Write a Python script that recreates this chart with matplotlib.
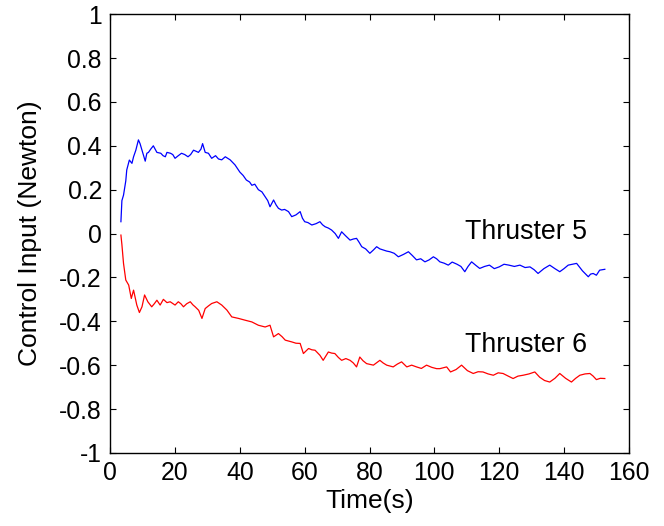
import numpy as np
import matplotlib
matplotlib.use("Agg")
import matplotlib.pyplot as plt
from matplotlib.ticker import FuncFormatter

plt.rcParams['font.family'] = ['Liberation Sans', 'DejaVu Sans']
plt.rcParams['axes.unicode_minus'] = False

# Thruster 5 (blue)
t5 = [3.3, 3.6, 4.1, 4.8, 5.1, 5.9, 6.7, 7.2, 7.9, 8.7,
      9.2, 10.0, 10.8, 11.3, 11.8, 12.5, 13.3, 14.4, 15.6, 16.3,
      17.0, 17.5, 18.6, 19.3, 20.0, 21.0, 22.0, 23.0, 24.0, 24.8,
      25.7, 26.5, 27.2, 28.0, 28.5, 29.3, 30.3, 31.3, 32.5, 33.4,
      34.4, 35.5, 37.0, 38.5, 40.0, 41.0, 42.0, 43.0, 43.7, 44.6,
      45.7, 46.8, 47.8, 48.6, 49.3, 50.4, 51.2, 51.9, 52.9, 53.8,
      55.0, 56.0, 57.3, 58.6, 59.3, 60.0, 61.0, 62.2, 63.5, 64.7,
      65.5, 66.3, 67.3, 68.3, 69.4, 70.4, 71.4, 72.6, 74.0, 75.0,
      76.0, 76.8, 77.6, 78.8, 80.1, 81.2, 82.2, 83.2, 84.2, 85.3,
      86.3, 87.6, 88.9, 90.5, 92.0, 93.2, 94.5, 95.8, 97.1, 98.4,
      99.7, 100.7, 101.7, 103.0, 104.3, 105.5, 107.0, 108.2, 109.4, 110.4,
      111.5, 112.8, 114.0, 115.5, 117.0, 118.5, 120.0, 121.5, 123.0, 124.7,
      126.4, 128.0, 129.5, 130.8, 132.0, 133.8, 135.6, 137.2, 138.7, 140.0,
      141.3, 142.6, 143.9, 145.7, 147.5, 148.2, 149.0, 150.0, 151.0, 152.6]
u5 = [0.054, 0.15, 0.175, 0.24, 0.29, 0.335, 0.32, 0.35, 0.38, 0.427,
      0.41, 0.37, 0.33, 0.366, 0.37, 0.385, 0.40, 0.37, 0.366, 0.355,
      0.35, 0.37, 0.366, 0.36, 0.343, 0.355, 0.366, 0.36, 0.35, 0.36,
      0.38, 0.375, 0.37, 0.385, 0.41, 0.37, 0.366, 0.343, 0.355, 0.34,
      0.336, 0.35, 0.336, 0.313, 0.28, 0.265, 0.244, 0.235, 0.22, 0.225,
      0.2, 0.19, 0.168, 0.15, 0.122, 0.153, 0.13, 0.115, 0.107, 0.11,
      0.1, 0.077, 0.085, 0.1, 0.07, 0.054, 0.05, 0.039, 0.045, 0.054,
      0.04, 0.031, 0.025, 0.016, 0.0, -0.022, 0.008, -0.01, -0.03, -0.025,
      -0.022, -0.04, -0.06, -0.07, -0.09, -0.075, -0.06, -0.07, -0.075, -0.08,
      -0.083, -0.09, -0.106, -0.095, -0.083, -0.1, -0.12, -0.115, -0.129, -0.12,
      -0.106, -0.115, -0.129, -0.135, -0.144, -0.13, -0.14, -0.15, -0.174, -0.15,
      -0.129, -0.145, -0.159, -0.15, -0.144, -0.16, -0.152, -0.14, -0.144, -0.15,
      -0.144, -0.155, -0.152, -0.165, -0.182, -0.16, -0.144, -0.16, -0.174, -0.16,
      -0.144, -0.14, -0.136, -0.17, -0.197, -0.185, -0.182, -0.19, -0.167, -0.163]

# Thruster 6 (red)
t6 = [3.3, 3.6, 4.1, 4.8, 5.7, 6.5, 7.2, 8.2, 9.0, 9.8,
      10.6, 11.6, 12.8, 13.6, 14.4, 15.4, 16.4, 17.5, 18.5, 20.0,
      21.0, 21.8, 22.6, 23.6, 24.7, 25.5, 26.2, 27.3, 28.3, 29.3,
      30.3, 31.3, 32.9, 34.4, 36.0, 37.5, 39.6, 41.6, 43.7, 45.7,
      47.8, 49.3, 50.4, 51.9, 53.0, 54.0, 55.0, 56.0, 57.3, 58.6,
      59.6, 61.2, 62.2, 63.2, 64.7, 65.7, 67.3, 68.3, 69.3, 70.4,
      71.4, 72.7, 74.0, 75.0, 76.0, 77.0, 78.0, 79.1, 81.2, 83.2,
      84.2, 85.3, 87.3, 88.6, 89.9, 91.5, 93.0, 94.5, 96.0, 97.6,
      99.2, 100.7, 101.7, 103.8, 105.0, 106.7, 108.4, 110.2, 112.0, 113.5,
      115.0, 116.6, 118.2, 119.7, 121.2, 122.8, 124.3, 125.8, 127.4, 129.2,
      131.0, 132.5, 134.0, 135.6, 137.2, 138.7, 140.5, 142.3, 143.6, 144.9,
      146.5, 148.0, 149.0, 150.0, 151.2, 152.6]
u6 = [-0.007, -0.05, -0.136, -0.212, -0.235, -0.296, -0.258, -0.326, -0.36, -0.334,
      -0.28, -0.311, -0.334, -0.32, -0.304, -0.326, -0.3, -0.315, -0.311, -0.326,
      -0.311, -0.32, -0.334, -0.32, -0.311, -0.325, -0.334, -0.35, -0.387, -0.342,
      -0.33, -0.319, -0.311, -0.326, -0.349, -0.38, -0.387, -0.395, -0.403, -0.418,
      -0.426, -0.418, -0.471, -0.456, -0.47, -0.486, -0.49, -0.494, -0.5, -0.501,
      -0.547, -0.524, -0.53, -0.532, -0.555, -0.578, -0.54, -0.545, -0.547, -0.565,
      -0.578, -0.57, -0.578, -0.59, -0.608, -0.563, -0.58, -0.593, -0.6, -0.578,
      -0.59, -0.6, -0.608, -0.595, -0.585, -0.608, -0.6, -0.608, -0.615, -0.6,
      -0.61, -0.616, -0.616, -0.608, -0.631, -0.62, -0.6, -0.625, -0.638, -0.63,
      -0.631, -0.64, -0.646, -0.635, -0.638, -0.65, -0.661, -0.65, -0.646, -0.64,
      -0.631, -0.655, -0.67, -0.677, -0.66, -0.638, -0.66, -0.677, -0.66, -0.646,
      -0.64, -0.638, -0.65, -0.666, -0.66, -0.661]

xticks = [0, 20, 40, 60, 80, 100, 120, 140, 160]
yticks = [-1, -0.8, -0.6, -0.4, -0.2, 0, 0.2, 0.4, 0.6, 0.8, 1]

fig = plt.figure(figsize=(6.64, 5.26), dpi=100)
ax = fig.add_axes([0.166, 0.139, 0.781, 0.834])

ax.plot(t5, u5, color='#0000ff', lw=0.9)
ax.plot(t6, u6, color='#ff0000', lw=0.9)

ax.text(109.4, -0.026, 'Thruster 5', fontsize=19.3)
ax.text(109.4, -0.54, 'Thruster 6', fontsize=19.3)

ax.set_xlim(0, 160)
ax.set_ylim(-1, 1)
ax.set_xticks(xticks)
ax.set_yticks(yticks)
ax.yaxis.set_major_formatter(FuncFormatter(lambda v, p: '%g' % v))
ax.tick_params(direction='in', length=4, width=0.8, labelsize=17.8, pad=6,
               top=True, right=True)
for s in ax.spines.values():
    s.set_linewidth(1.0)

ax.set_xlabel('Time(s)', fontsize=19, labelpad=3)
ax.set_ylabel('Control Input (Newton)', fontsize=19, labelpad=12)

fig.savefig('out.png', dpi=100)
